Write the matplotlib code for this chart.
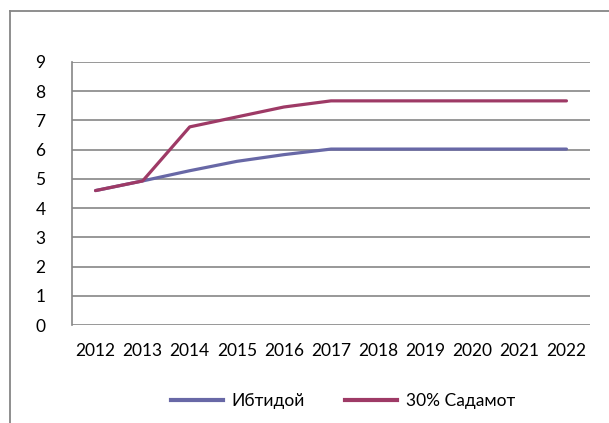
import matplotlib
matplotlib.use("Agg")
import matplotlib.pyplot as plt
from matplotlib.lines import Line2D

years = ["2012", "2013", "2014", "2015", "2016", "2017", "2018", "2019", "2020", "2021", "2022"]
baseline = [4.6, 4.93, 5.28, 5.6, 5.83, 6.02, 6.02, 6.02, 6.02, 6.02, 6.02]
shock30 = [4.6, 4.93, 6.78, 7.12, 7.46, 7.67, 7.67, 7.67, 7.67, 7.67, 7.67]
series_names = ["Ибтидой", "30% Садамот"]
yticks = list(range(0, 10))

plt.rcParams['font.family'] = ['Lato', 'DejaVu Sans']
W, H = 609, 423
fig = plt.figure(figsize=(W / 100, H / 100), dpi=100)
ax = fig.add_axes([72 / W, 1 - 325 / H, (590 - 72) / W, (325 - 62) / H])

grid_c = '#868686'
blue = '#6868A6'
red = '#9E3A66'

x = list(range(len(years)))
ax.plot(x, baseline, color=blue, lw=2.3, solid_capstyle='round', label=series_names[0], zorder=3)
ax.plot(x, shock30, color=red, lw=2.3, solid_capstyle='round', label=series_names[1], zorder=4)

ax.set_xlim(-0.5, len(years) - 0.5)
ax.set_ylim(0, 9)
ax.set_yticks(yticks)
ax.set_yticklabels([str(v) for v in yticks], fontsize=12.5)
ax.set_xticks(x)
ax.set_xticklabels(years, fontsize=12.5)
ax.tick_params(axis='both', length=0, colors='black')
ax.tick_params(axis='y', pad=19)
ax.tick_params(axis='x', pad=13)
ax.grid(axis='y', color=grid_c, lw=1.2)
ax.set_axisbelow(True)
for s in ['top', 'right', 'bottom']:
    ax.spines[s].set_visible(False)
ax.spines['left'].set_color(grid_c)
ax.spines['left'].set_linewidth(1.2)

# outer chart frame (cropped on right and bottom)
fig.add_artist(Line2D([10 / W, 10 / W], [0, 1 - 11 / H], color=grid_c, lw=1.3, transform=fig.transFigure))
fig.add_artist(Line2D([10 / W, 1], [1 - 11 / H, 1 - 11 / H], color=grid_c, lw=1.3, transform=fig.transFigure))

handles = [Line2D([], [], color=blue, lw=3), Line2D([], [], color=red, lw=3)]
fig.legend(handles, series_names, loc='center', bbox_to_anchor=(343 / W, 1 - 401 / H),
           ncol=2, frameon=False, fontsize=12.5, handlelength=3.0, handletextpad=0.5,
           columnspacing=2.3, borderaxespad=0, borderpad=0)

fig.savefig('out.png', dpi=100)
